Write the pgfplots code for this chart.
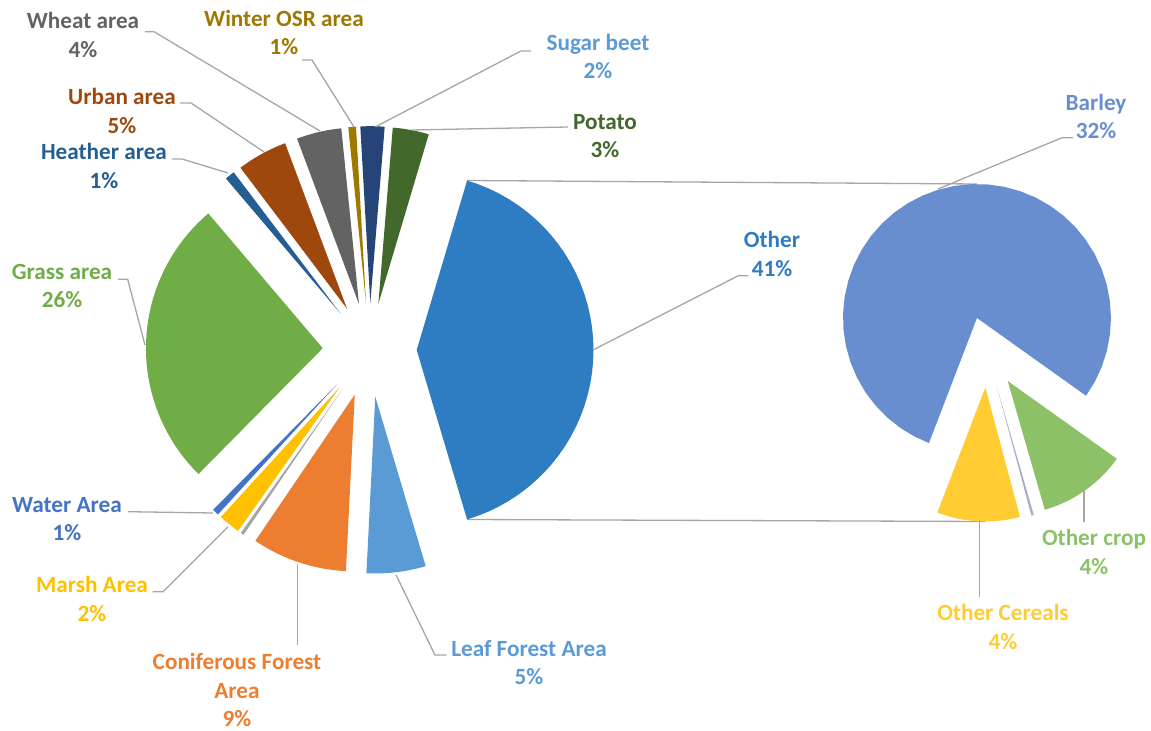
\documentclass[border=0pt]{standalone}
\usepackage{pgfplots}
\pgfplotsset{compat=1.18}
\usepackage{fontspec}
\setmainfont{Carlito}
\definecolor{otherc}{RGB}{46,125,195}
\definecolor{potato}{RGB}{67,104,43}
\definecolor{sugar}{RGB}{38,68,120}
\definecolor{osr}{RGB}{158,120,0}
\definecolor{wheat}{RGB}{99,99,99}
\definecolor{urban}{RGB}{158,72,14}
\definecolor{heather}{RGB}{37,94,145}
\definecolor{grass}{RGB}{112,173,71}
\definecolor{water}{RGB}{68,114,196}
\definecolor{marsh}{RGB}{255,192,0}
\definecolor{greyA}{RGB}{165,165,165}
\definecolor{conif}{RGB}{237,125,49}
\definecolor{leaf}{RGB}{91,155,213}
\definecolor{barley}{RGB}{105,142,208}
\definecolor{cereals}{RGB}{255,205,51}
\definecolor{greyB}{RGB}{165,175,195}
\definecolor{crop}{RGB}{140,193,104}
\definecolor{lead}{RGB}{166,166,166}
% one exploded sector: cx cy r d start sweep colour
\newcommand{\pieslice}[7]{%
  \pgfmathsetmacro\sa{#5}%
  \pgfmathsetmacro\sw{#6}%
  \pgfmathsetmacro\md{\sa+\sw/2}%
  \pgfmathsetmacro\ax{#1+#4*cos(\md)}%
  \pgfmathsetmacro\ay{#2+#4*sin(\md)}%
  \edef\doslice{\noexpand\addplot[fill=#7, draw=none, variable=t, samples at={-1,0,...,40}]
    ({\ax+(t>=0)*#3*cos(\sa+t*\sw/40)}, {\ay+(t>=0)*#3*sin(\sa+t*\sw/40)});}%
  \doslice}
% main pie: value in percent
\newcommand{\mainslice}[2]{%
  \pieslice{369.7}{380}{176.8}{47}{\runA}{#1*3.6}{#2}%
  \pgfmathsetmacro\tmp{\runA+#1*3.6}\global\let\runA\tmp}
% secondary pie: value in percent of the whole (total 41)
\newcommand{\subslice}[2]{%
  \pieslice{987.2}{378}{134}{35.5}{\runB}{#1*360/41}{#2}%
  \pgfmathsetmacro\tmp{\runB+#1*360/41}\global\let\runB\tmp}
\begin{document}
\begin{tikzpicture}
\begin{axis}[x=0.5bp, y=0.5bp, xmin=0, xmax=1151, ymin=0, ymax=730,
  hide axis, clip=false]
% connector lines
\draw[lead, line width=0.65bp] (axis cs:467.1,549.5) -- (axis cs:977,546);
\draw[lead, line width=0.65bp] (axis cs:467.1,210.5) -- (axis cs:985.3,208.5);
% main pie
\gdef\runA{-73.44}
\mainslice{40.8}{otherc}
\mainslice{3.3}{potato}
\mainslice{2.2}{sugar}
\mainslice{0.7}{osr}
\mainslice{4.1}{wheat}
\mainslice{4.6}{urban}
\mainslice{0.9}{heather}
\mainslice{26.4}{grass}
\mainslice{0.6}{water}
\mainslice{2.0}{marsh}
\mainslice{0.3}{greyA}
\mainslice{8.7}{conif}
\mainslice{5.4}{leaf}
% secondary pie
\gdef\runB{249}
\subslice{4.1}{cereals}
\subslice{0.12}{greyB}
\subslice{4.38}{crop}
\subslice{32.4}{barley}
% leader lines
\begin{scope}[lead, line width=0.65bp]
\draw (axis cs:145,698.3) -- (axis cs:154,698.3) -- (axis cs:320,599);
\draw (axis cs:302,670) -- (axis cs:312,670) -- (axis cs:354,603);
\draw (axis cs:180,627) -- (axis cs:191,627) -- (axis cs:264,578);
\draw (axis cs:172,571) -- (axis cs:182,571) -- (axis cs:228,557);
\draw (axis cs:531,679) -- (axis cs:521,679) -- (axis cs:375.7,603.3);
\draw (axis cs:568,603) -- (axis cs:412,600);
\draw (axis cs:118,450.7) -- (axis cs:127.7,450.7) -- (axis cs:145,385);
\draw (axis cs:748.3,454.3) -- (axis cs:738.3,454.3) -- (axis cs:593,380);
\draw (axis cs:128,218.3) -- (axis cs:213,217);
\draw (axis cs:152.7,138.3) -- (axis cs:163,138.3) -- (axis cs:228,203.3);
\draw (axis cs:297.7,166) -- (axis cs:297.7,85);
\draw (axis cs:396,155) -- (axis cs:435,75) -- (axis cs:446.7,75);
\draw (axis cs:1073,592.3) -- (axis cs:1062,592.3) -- (axis cs:938,541);
\draw (axis cs:1084,240) -- (axis cs:1084,208);
\draw (axis cs:979.3,210) -- (axis cs:979.3,133);
\end{scope}
% labels
\tikzset{lbl/.style={align=center, inner sep=0pt, font=\fontsize{11.65}{14.25}\selectfont\bfseries}}
\node[lbl, text=wheat] at (axis cs:83,695) {Wheat area\\4\%};
\node[lbl, text=osr] at (axis cs:284,697.5) {Winter OSR area\\1\%};
\node[lbl, text=urban] at (axis cs:122,619) {Urban area\\5\%};
\node[lbl, text=heather] at (axis cs:104,564) {Heather area\\1\%};
\node[lbl, text=leaf] at (axis cs:598,673.5) {Sugar beet\\2\%};
\node[lbl, text=potato] at (axis cs:605,594) {Potato\\3\%};
\node[lbl, text=grass] at (axis cs:62,444) {Grass area\\26\%};
\node[lbl, text=otherc] at (axis cs:772,476) {Other\\41\%};
\node[lbl, text=water] at (axis cs:67,211) {Water Area\\1\%};
\node[lbl, text=marsh] at (axis cs:92,131) {Marsh Area\\2\%};
\node[lbl, text=conif] at (axis cs:237,40) {Coniferous Forest\\Area\\9\%};
\node[lbl, text=leaf] at (axis cs:529,67.5) {Leaf Forest Area\\5\%};
\node[lbl, text=barley] at (axis cs:1096,613.5) {Barley\\32\%};
\node[lbl, text=crop] at (axis cs:1094,178) {Other crop\\4\%};
\node[lbl, text=cereals] at (axis cs:1003,103) {Other Cereals\\4\%};
\end{axis}
\pgfresetboundingbox
\path (current axis.south west) rectangle (current axis.north east);
\end{tikzpicture}
\end{document}
